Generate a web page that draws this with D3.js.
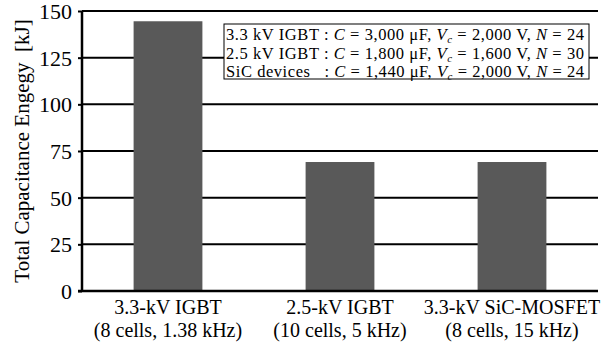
<!DOCTYPE html>
<html>
<head>
<meta charset="utf-8">
<script src="https://cdn.jsdelivr.net/npm/d3@7"></script>
</head>
<body style="margin:0;background:#fff">
<div id="chart"></div>
<script>
// data
const categories = ["3.3-kV IGBT", "2.5-kV IGBT", "3.3-kV SiC-MOSFET"];
const subLabels = ["(8 cells, 1.38 kHz)", "(10 cells, 5 kHz)", "(8 cells, 15 kHz)"];
const energy = [144.5, 69.1, 69.1];
const yTicks = [0, 25, 50, 75, 100, 125, 150];
const legendRows = [
  { dev: "3.3 kV IGBT : ", c: "3,000", v: "2,000", n: "24" },
  { dev: "2.5 kV IGBT : ", c: "1,800", v: "1,600", n: "30" },
  { dev: "SiC devices   : ", c: "1,440", v: "2,000", n: "24" }
];

const FONT = "'Liberation Serif', 'Times New Roman', serif";
const W = 614, H = 350;
const margin = { top: 11, right: 16, bottom: 59, left: 82 };
const width = W - margin.left - margin.right;
const height = H - margin.top - margin.bottom;

const svg = d3.select("#chart").append("svg")
  .attr("width", W).attr("height", H)
  .style("display", "block")
  .style("font-family", FONT);
const g = svg.append("g").attr("transform", `translate(${margin.left},${margin.top})`);

const x = d3.scaleBand().domain(categories).range([0, width])
  .paddingInner(0.6).paddingOuter(0.3);
const y = d3.scaleLinear().domain([0, 150]).range([height, 0]);

// gridlines
g.selectAll(".grid").data(yTicks.filter(d => d > 0)).enter()
  .append("line")
  .attr("x1", 0).attr("x2", width)
  .attr("y1", d => y(d)).attr("y2", d => y(d))
  .attr("stroke", "#000").attr("stroke-width", 2);

// bars
g.selectAll("rect.bar").data(energy).enter()
  .append("rect")
  .attr("class", "bar")
  .attr("x", (d, i) => x(categories[i]))
  .attr("width", x.bandwidth())
  .attr("y", d => y(d))
  .attr("height", d => height - y(d))
  .attr("fill", "#595959");

// y axis
const yAxis = g.append("g")
  .call(d3.axisLeft(y).tickValues(yTicks).tickSize(4).tickPadding(6));
yAxis.attr("font-family", null);
yAxis.select(".domain").attr("stroke-width", 2.5).attr("d", `M0,${y(150)}V${height}`);
yAxis.selectAll(".tick line").attr("stroke-width", 2);
yAxis.selectAll("text")
  .style("font-family", FONT).style("font-size", "22px")
  .attr("fill", "#000").attr("dy", "0.34em");

// x axis baseline
g.append("line")
  .attr("x1", -4).attr("x2", width)
  .attr("y1", height).attr("y2", height)
  .attr("stroke", "#000").attr("stroke-width", 2.5);

// x labels
categories.forEach((c, i) => {
  const cx = x(c) + x.bandwidth() / 2;
  g.append("text").attr("x", cx).attr("y", height + 23)
    .attr("text-anchor", "middle").style("font-family", FONT).style("font-size", "20px").text(c);
  g.append("text").attr("x", cx).attr("y", height + 46)
    .attr("text-anchor", "middle").style("font-family", FONT).style("font-size", "20px").text(subLabels[i]);
});

// y label
svg.append("text")
  .attr("transform", `translate(29, 151) rotate(-90)`)
  .attr("text-anchor", "middle")
  .style("font-family", FONT)
  .style("font-size", "21px")
  .attr("xml:space", "preserve")
  .text("Total Capacitance Engegy  [kJ]");

// legend box
const lg = svg.append("g").attr("transform", "translate(224,24)");
lg.append("rect").attr("width", 365).attr("height", 55)
  .attr("fill", "#fff").attr("stroke", "#000").attr("stroke-width", 1);
legendRows.forEach((r, i) => {
  const t = lg.append("text").attr("x", 2).attr("y", 16 + i * 18.5)
    .style("font-family", FONT)
    .style("font-size", "16.5px").attr("xml:space", "preserve")
    .attr("textLength", 358).attr("lengthAdjust", "spacing");
  t.append("tspan").text(r.dev);
  t.append("tspan").style("font-style", "italic").text("C");
  t.append("tspan").text(" = " + r.c + " \u03bcF, ");
  t.append("tspan").style("font-style", "italic").text("V");
  t.append("tspan").style("font-style", "italic").style("font-size", "11px").attr("dy", 3).text("c");
  t.append("tspan").attr("dy", -3).text(" = " + r.v + " V, ");
  t.append("tspan").style("font-style", "italic").text("N");
  t.append("tspan").text(" = " + r.n);
});
</script>
</body>
</html>
